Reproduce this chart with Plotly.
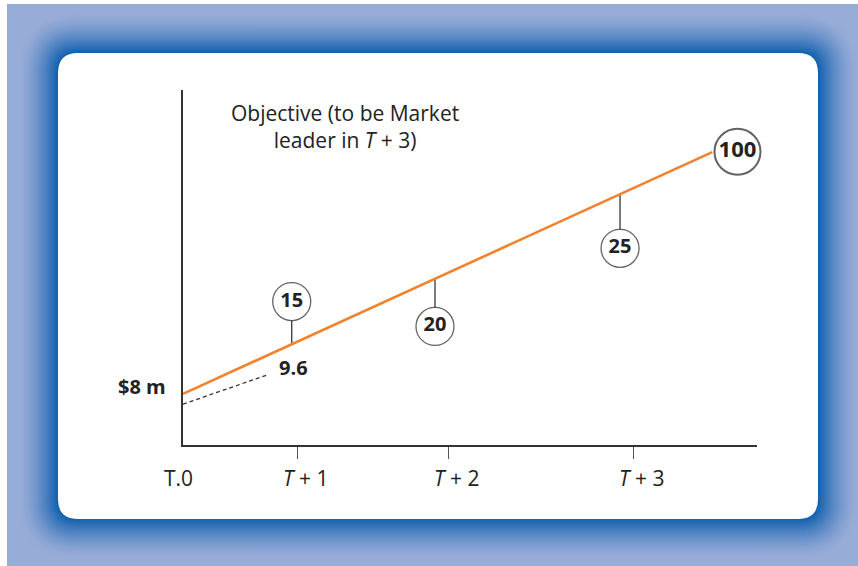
import numpy as np
import plotly.graph_objects as go

# ---------------- data ----------------
periods = ["T.0", "<i>T</i> + 1", "<i>T</i> + 2", "<i>T</i> + 3"]
period_x = [0.0, 1.0, 2.31, 3.92]           # time position of each period

plan_x = [0.0, 4.61]                          # objective line (sales level, index)
plan_y = [14.4, 82.5]

trend_x = [0.0, 0.73]                         # current trend (dashed)
trend_y = [11.5, 19.7]

milestone_vals = ["15", "20", "25", "100"]
milestone_x = [0.947, 2.195, 3.807, 4.83]
milestone_y = [40.4, 33.4, 55.4, 82.6]

start_label = "$8 m"
start_y = 16.6
trend_label = "9.6"
trend_label_x = 0.962
trend_label_y = 21.7

objective_text = "Objective (to be Market<br>leader in <i>T</i> + 3)"

# ---------------- page geometry (pixels) ----------------
W, H = 858, 566
L, R, T, B = 183, 757, 90, 445      # plot area
XR = [0, 5]
YR = [0, 100]

def px(xp):   # pixel -> paper
    return (xp - L) / (R - L)

def py(yp):
    return (B - yp) / (B - T)

def rrect(x0, y0, x1, y1, r):
    ax0, ax1 = px(x0), px(x1)
    ay0, ay1 = py(y0), py(y1)
    rx = r / (R - L)
    ry = r / (B - T)
    return (f"M {ax0+rx},{ay0} L {ax1-rx},{ay0} Q {ax1},{ay0} {ax1},{ay0-ry} "
            f"L {ax1},{ay1+ry} Q {ax1},{ay1} {ax1-rx},{ay1} "
            f"L {ax0+rx},{ay1} Q {ax0},{ay1} {ax0},{ay1+ry} "
            f"L {ax0},{ay0-ry} Q {ax0},{ay0} {ax0+rx},{ay0} Z")

shapes = []
light = np.array([0x98, 0xac, 0xd8])
dark = np.array([0x0e, 0x5f, 0xae])
shapes.append(dict(type="rect", xref="paper", yref="paper", x0=px(7), x1=px(W + 5),
                   y0=py(4), y1=py(H + 5), fillcolor="#98acd8", line_width=0, layer="below"))
P = (58, 53, 818, 519)
N = 28
maxd = 40
for i in range(N + 1):
    d = maxd * (1 - i / N)
    t = (i / N) ** 1.5
    c = light + (dark - light) * t
    col = "rgb(%d,%d,%d)" % tuple(c.astype(int))
    shapes.append(dict(type="path", xref="paper", yref="paper",
                       path=rrect(P[0] - d, P[1] - d, P[2] + d, P[3] + d, 20 + d),
                       fillcolor=col, line_width=0, layer="below"))
shapes.append(dict(type="path", xref="paper", yref="paper",
                   path=rrect(*P, 20), fillcolor="white", line_width=0, layer="below"))

FONT = "Open Sans"
fig = go.Figure()

r_small = 19 / (B - T) * (YR[1] - YR[0])
for mx, my, mv in zip(milestone_x[:3], milestone_y[:3], milestone_vals[:3]):
    ly = float(np.interp(mx, plan_x, plan_y))
    edge = my - r_small if my > ly else my + r_small
    fig.add_trace(go.Scatter(x=[mx, mx], y=[ly, edge], mode="lines",
                             line=dict(color="#444", width=1.4), hoverinfo="skip"))

fig.add_trace(go.Scatter(x=trend_x, y=trend_y, mode="lines",
                         line=dict(color="#333", width=1.3, dash="4px,3px"), hoverinfo="skip"))
fig.add_trace(go.Scatter(x=plan_x, y=plan_y, mode="lines",
                         line=dict(color="#f2832e", width=2.6), hoverinfo="skip"))
fig.add_trace(go.Scatter(
    x=milestone_x, y=milestone_y, mode="markers+text", cliponaxis=False,
    text=milestone_vals, textposition="middle center",
    textfont=dict(family=FONT, size=[20, 20, 20, 22], color="#222", weight="bold"),
    marker=dict(symbol="circle", size=[38, 38, 38, 46], color="white",
                line=dict(color="#222", width=[1.3, 1.3, 1.3, 2.0])),
    hoverinfo="skip"))

annotations = []
for lab, x in zip(periods, period_x):
    annotations.append(dict(x=x, y=0, xref="x", yref="y", text=lab, showarrow=False,
                            yshift=-33, xshift=(-5 if x == 0 else 8),
                            font=dict(family=FONT, size=21, color="#222")))
annotations.append(dict(x=0, y=start_y, xref="x", yref="y", text="<b>" + start_label + "</b>",
                        showarrow=False, xanchor="right", xshift=-15,
                        font=dict(family=FONT, size=20, color="#222")))
annotations.append(dict(x=trend_label_x, y=trend_label_y, xref="x", yref="y",
                        text="<b>" + trend_label + "</b>", showarrow=False,
                        font=dict(family=FONT, size=20, color="#222")))
annotations.append(dict(x=1.41, y=89.8, xref="x", yref="y", text=objective_text,
                        showarrow=False, align="center",
                        font=dict(family=FONT, size=21, color="#222")))

fig.update_layout(
    width=W, height=H,
    margin=dict(l=L, r=W - R, t=T, b=H - B),
    paper_bgcolor="white", plot_bgcolor="rgba(0,0,0,0)",
    showlegend=False, shapes=shapes, annotations=annotations,
    xaxis=dict(range=XR, showline=True, linecolor="#333", linewidth=1.5,
               showgrid=False, zeroline=False, ticks="outside",
               tickvals=period_x[1:], ticklen=12, tickwidth=1.2, tickcolor="#555",
               showticklabels=False, fixedrange=True),
    yaxis=dict(range=YR, showline=True, linecolor="#333", linewidth=1.5,
               showgrid=False, zeroline=False, showticklabels=False, ticks="",
               fixedrange=True),
)

fig.write_html("out.html")
